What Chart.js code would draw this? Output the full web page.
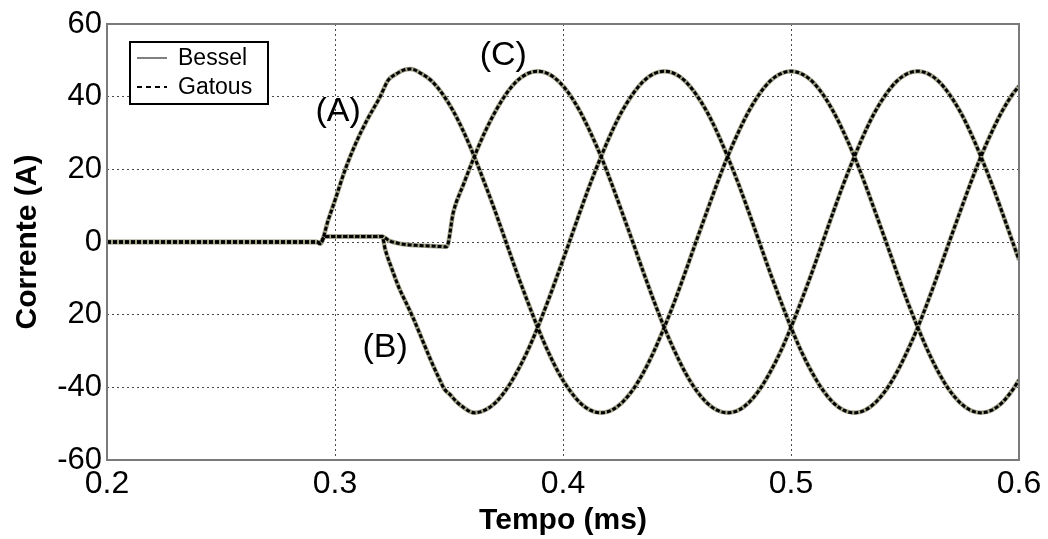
<!DOCTYPE html>
<html><head><meta charset="utf-8">
<script src="https://cdn.jsdelivr.net/npm/chart.js@4/dist/chart.umd.min.js"></script>
<style>html,body{margin:0;padding:0;background:#fff;}#wrap{width:1048px;height:539px;position:relative;}</style>
</head><body><div id="wrap"><canvas id="c"></canvas></div>
<script>
// ---- data ----
const nomesSeries = ['Bessel', 'Gatous'];
const nomesFases = ['(A)', '(B)', '(C)'];
const tickX = [0.2, 0.3, 0.4, 0.5, 0.6];
const rotulosX = ['0.2', '0.3', '0.4', '0.5', '0.6'];
const tickY = [60, 40, 20, 0, -20, -40, -60];
const rotulosY = ['60', '40', '20', '0', '20', '-40', '-60'];
const tituloX = 'Tempo (ms)';
const tituloY = 'Corrente (A)';
// anchors of the phase labels, in data units (tempo, corrente)
const ancoraFaseX = [0.3014, 0.3220, 0.3738];
const ancoraFaseY = [35.8, -29.2, 51.2];

// transient part of each phase
const tempoTrA = [0.2, 0.292, 0.2935, 0.297, 0.300, 0.3045, 0.309, 0.314, 0.3198, 0.3233, 0.327, 0.330];
const corrTrA  = [0, 0, -0.5, 6, 11.5, 20, 27, 33.5, 40, 44.5, 46.3, 47.3];
const tempoTrB = [0.2, 0.292, 0.2935, 0.2955, 0.3207, 0.322, 0.325, 0.328, 0.331, 0.334, 0.338, 0.342, 0.346, 0.348, 0.3505, 0.353, 0.3565];
const corrTrB  = [0, 0, -0.3, 1.5, 1.5, -2, -7.5, -12.5, -16.5, -20.5, -26.5, -32.5, -38, -40.5, -42, -43.8, -45.6];
const tempoTrC = [0.2, 0.292, 0.2935, 0.2955, 0.3207, 0.324, 0.328, 0.335, 0.342, 0.349];
const corrTrC  = [0, 0, -0.3, 1.5, 1.5, 0.3, -0.4, -0.9, -1.1, -1.3];

// steady-state part (shared time samples; each phase uses the trailing part)
const tempoRegime = [0.3333,0.3380,0.3426,0.3472,0.3519,0.3565,0.3611,0.3657,0.3704,0.3750,0.3796,0.3843,0.3889,0.3935,0.3981,0.4028,0.4074,0.4120,0.4167,0.4213,0.4259,0.4306,0.4352,0.4398,0.4444,0.4491,0.4537,0.4583,0.4630,0.4676,0.4722,0.4769,0.4815,0.4861,0.4907,0.4954,0.5000,0.5046,0.5093,0.5139,0.5185,0.5231,0.5278,0.5324,0.5370,0.5417,0.5463,0.5509,0.5556,0.5602,0.5648,0.5694,0.5741,0.5787,0.5833,0.5880,0.5926,0.5972,0.6000];
const regA = [47.6,46.3,44.2,40.7,36.0,30.2,23.5,16.1,8.2,0,-8.2,-16.1,-23.5,-30.2,-36.0,-40.7,-44.2,-46.3,
  -47.0,-46.3,-44.2,-40.7,-36.0,-30.2,-23.5,-16.1,-8.2,0,8.2,16.1,23.5,30.2,36.0,40.7,44.2,46.3,
  47.0,46.3,44.2,40.7,36.0,30.2,23.5,16.1,8.2,0,-8.2,-16.1,-23.5,-30.2,-36.0,-40.7,-44.2,-46.3,
  -47.0,-46.3,-44.2,-40.7,-38.0];
const regB = [-47.0,-46.3,-44.2,-40.7,-36.0,-30.2,-23.5,-16.1,-8.2,0,8.2,16.1,23.5,30.2,36.0,40.7,44.2,46.3,
  47.0,46.3,44.2,40.7,36.0,30.2,23.5,16.1,8.2,0,-8.2,-16.1,-23.5,-30.2,-36.0,-40.7,-44.2,-46.3,
  -47.0,-46.3,-44.2,-40.7,-36.0,-30.2,-23.5,-16.1,-8.2,0,8.2,16.1,23.5,30.2,36.0,40.7,42.9];
const regC = [8.2,16.1,23.5,30.2,36.0,40.7,44.2,46.3,
  47.0,46.3,44.2,40.7,36.0,30.2,23.5,16.1,8.2,0,-8.2,-16.1,-23.5,-30.2,-36.0,-40.7,-44.2,-46.3,
  -47.0,-46.3,-44.2,-40.7,-36.0,-30.2,-23.5,-16.1,-8.2,0,8.2,16.1,23.5,30.2,36.0,40.7,44.2,46.3,
  47.0,46.3,44.2,40.7,36.0,30.2,23.5,16.1,8.2,0,-4.9];

// ---- build point lists ----
function montar(tTr, iTr, reg) {
  const pts = tTr.map((t, k) => ({x: t, y: iTr[k]}));
  const off = tempoRegime.length - reg.length;
  reg.forEach((v, k) => pts.push({x: tempoRegime[off + k], y: v}));
  return pts;
}
const fasesPts = [montar(tempoTrA, corrTrA, regA), montar(tempoTrB, corrTrB, regB), montar(tempoTrC, corrTrC, regC)];

const FONT = "'Liberation Sans', Arial, Helvetica, sans-serif";
const estiloBessel = {borderColor: '#a3a38a', borderWidth: 4.5, borderDash: []};
const estiloGatous = {borderColor: '#000000', borderWidth: 3, borderDash: [4, 2]};

const datasets = [];
fasesPts.forEach((pts, f) => {
  datasets.push(Object.assign({label: nomesSeries[0] + ' ' + nomesFases[f], data: pts, order: 2,
    pointRadius: 0, fill: false, cubicInterpolationMode: 'monotone'}, estiloBessel));
});
fasesPts.forEach((pts, f) => {
  datasets.push(Object.assign({label: nomesSeries[1] + ' ' + nomesFases[f], data: pts, order: 1,
    pointRadius: 0, fill: false, cubicInterpolationMode: 'monotone'}, estiloGatous));
});

const extras = {
  id: 'extras',
  afterDatasetsDraw(chart) {
    const ctx = chart.ctx, a = chart.chartArea;
    const sx = chart.scales.x, sy = chart.scales.y;
    ctx.save();
    // plot frame
    ctx.strokeStyle = '#7a7a7a'; ctx.lineWidth = 2; ctx.setLineDash([]);
    ctx.strokeRect(a.left, a.top, a.right - a.left, a.bottom - a.top);
    // phase labels
    ctx.fillStyle = '#000'; ctx.font = '34px ' + FONT;
    ctx.textAlign = 'center'; ctx.textBaseline = 'middle';
    nomesFases.forEach((n, k) => ctx.fillText(n, sx.getPixelForValue(ancoraFaseX[k]), sy.getPixelForValue(ancoraFaseY[k])));
    // legend box
    const bx = a.left + 23, by = a.top + 18, bw = 138, bh = 62;
    ctx.fillStyle = '#fff'; ctx.fillRect(bx, by, bw, bh);
    ctx.strokeStyle = '#000'; ctx.lineWidth = 2; ctx.strokeRect(bx, by, bw, bh);
    const rows = [by + 16, by + 45];
    ctx.lineWidth = 2;
    ctx.strokeStyle = '#808080'; ctx.setLineDash([]);
    ctx.beginPath(); ctx.moveTo(bx + 7, rows[0]); ctx.lineTo(bx + 37, rows[0]); ctx.stroke();
    ctx.strokeStyle = '#000'; ctx.setLineDash([5, 4]);
    ctx.beginPath(); ctx.moveTo(bx + 7, rows[1]); ctx.lineTo(bx + 37, rows[1]); ctx.stroke();
    ctx.setLineDash([]);
    ctx.fillStyle = '#000'; ctx.font = '23px ' + FONT; ctx.textAlign = 'left'; ctx.textBaseline = 'middle';
    ctx.fillText(nomesSeries[0], bx + 48, rows[0] + 1);
    ctx.fillText(nomesSeries[1], bx + 48, rows[1] + 1);
    ctx.restore();
  }
};

function gridColor(ctx, lo, hi) {
  const v = ctx.tick ? ctx.tick.value : null;
  if (v === null || Math.abs(v - lo) < 1e-9 || Math.abs(v - hi) < 1e-9) return 'rgba(0,0,0,0)';
  return '#4a4a4a';
}

new Chart(document.getElementById('c'), {
  type: 'line',
  data: {datasets},
  plugins: [extras],
  options: {
    responsive: true, maintainAspectRatio: false, animation: false,
    layout: {padding: {top: 24, right: 29, left: 0, bottom: 0}},
    plugins: {legend: {display: false}, tooltip: {enabled: false}},
    scales: {
      x: {
        type: 'linear', min: tickX[0], max: tickX[tickX.length - 1],
        afterFit(s) { s.height = 79; },
        afterBuildTicks(s) { s.ticks = tickX.map(v => ({value: v})); },
        ticks: {
          padding: 5, color: '#000', font: {family: FONT, size: 32}, maxRotation: 0, autoSkip: false,
          callback: (v) => { const i = tickX.findIndex(t => Math.abs(t - v) < 1e-9); return i >= 0 ? rotulosX[i] : ''; }
        },
        grid: {drawTicks: false, lineWidth: 1, color: (c) => gridColor(c, tickX[0], tickX[tickX.length - 1])},
        border: {display: false, dash: [2, 3]},
        title: {display: true, text: tituloX, color: '#000', font: {family: FONT, size: 30, weight: 'bold'}, padding: {top: 0, bottom: 0}}
      },
      y: {
        type: 'linear', min: -60, max: 60,
        afterFit(s) { s.width = 107; },
        afterBuildTicks(s) { s.ticks = tickY.slice().reverse().map(v => ({value: v})); },
        ticks: {
          padding: 5, color: '#000', font: {family: FONT, size: 31}, autoSkip: false,
          callback: (v) => { const i = tickY.indexOf(v); return i >= 0 ? rotulosY[i] : ''; }
        },
        grid: {drawTicks: false, lineWidth: 1, color: (c) => gridColor(c, -60, 60)},
        border: {display: false, dash: [2, 3]},
        title: {display: true, text: tituloY, color: '#000', font: {family: FONT, size: 30, weight: 'bold'}, padding: {top: 10, bottom: 0}}
      }
    }
  }
});
</script>
</body></html>
